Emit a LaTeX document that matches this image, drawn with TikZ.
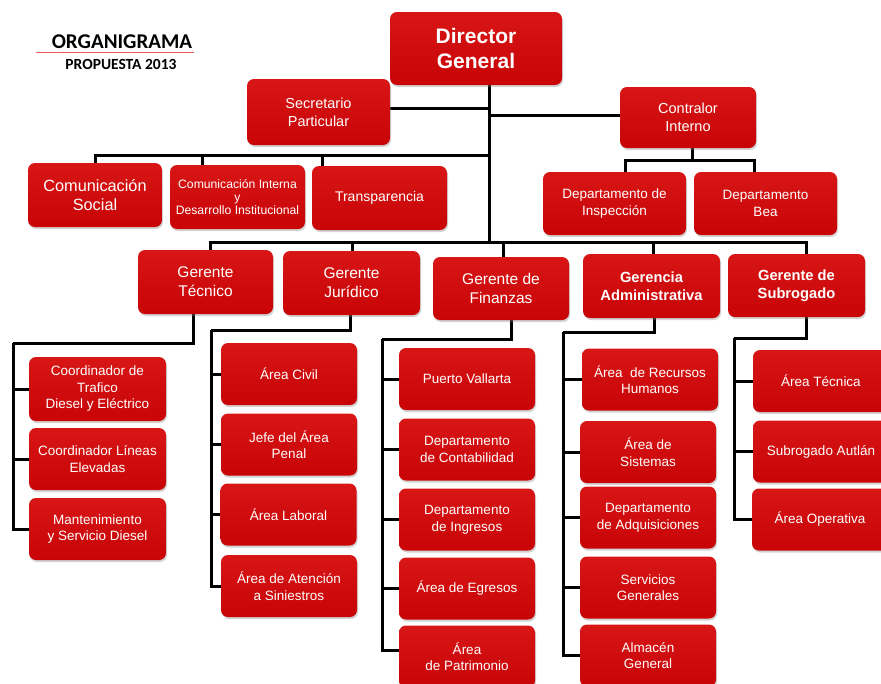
\documentclass[tikz,border=0pt]{standalone}
\usepackage{fontspec}
\setmainfont{Liberation Sans}
\newfontfamily\titlefont{Carlito}
\usepackage{tikz}
\usetikzlibrary{shadows}
\pgfdeclarelayer{background}
\pgfdeclarelayer{foreground}
\pgfsetlayers{background,main,foreground}
\definecolor{boxred}{RGB}{200,4,6}
\definecolor{boxlight}{RGB}{216,22,22}
\definecolor{titleline}{RGB}{236,90,90}

\begin{document}
\begin{tikzpicture}[x=1pt,y=-1pt,
					box/.style={rectangle, rounded corners=7pt, top color=boxlight, bottom color=boxred, text=white, align=center,
						minimum width=136pt, minimum height=62pt, inner sep=2pt, font=\fontsize{13.5}{16.5}\selectfont,
						drop shadow={opacity=0.35, shadow xshift=1pt, shadow yshift=-2pt}},
					bigbox/.style={box, font=\fontsize{15.5}{19}\selectfont},
					link/.style={line width=3pt, black},
					]
					\useasboundingbox (0,0) rectangle (881,683);
					\clip (0,0) rectangle (881,683);
					%Title
					\node[font=\titlefont\bfseries\fontsize{21}{24}\selectfont]      (ttl) 	at 	(122,42)           {ORGANIGRAMA};
					\node[font=\titlefont\bfseries\fontsize{15.5}{18}\selectfont]    (yr) 	at 	(121,64)           {PROPUESTA 2013};
					\draw[titleline, line width=1.3pt] ([xshift=-12pt]ttl.south west) -- ([xshift=-2pt]ttl.south east);
					%Nodes
					\node[box, minimum width=172pt, minimum height=73pt, font=\bfseries\fontsize{21}{25}\selectfont]
						(dir) 	at 	(476,48.5)         {Director\\General};
					\node[box, minimum width=143pt, minimum height=66pt, font=\fontsize{14.5}{18}\selectfont]
						(sec) 	at 	(318.5,112)        {Secretario\\Particular};
					\node[box, minimum height=61pt, font=\fontsize{14.5}{18}\selectfont]
						(con) 	at 	(688,117.5)        {Contralor\\Interno};
					\node[box, minimum width=134pt, minimum height=64pt, font=\fontsize{16.3}{19.5}\selectfont]
						(csoc) 	at 	(95,195)           {Comunicación\\Social};
					\node[box, minimum width=135pt, minimum height=64pt, font=\fontsize{12.2}{13}\selectfont]
						(cint) 	at 	(237.5,197)        {Comunicación Interna\\y\\Desarrollo Institucional};
					\node[box, minimum width=135pt, minimum height=64pt, font=\fontsize{14}{17}\selectfont]
						(trans) at 	(379.5,198)        {Transparencia};
					\node[box, minimum width=143pt, minimum height=63pt]
						(insp) 	at 	(614.5,203.5)      {Departamento de\\Inspección};
					\node[box, minimum width=143pt, minimum height=63pt]
						(bea) 	at 	(765.5,203.5)      {Departamento\\Bea};

					\node[bigbox, minimum width=135pt, minimum height=64pt]      (tec) 	at 	(205.5,282)   {Gerente\\Técnico};
					\node[bigbox, minimum width=137pt, minimum height=64pt]      (jur) 	at 	(351.5,283)   {Gerente\\Jurídico};
					\node[bigbox, minimum height=63pt]                           (fin) 	at 	(501,288.5)   {Gerente de\\Finanzas};
					\node[bigbox, minimum width=137pt, minimum height=64pt, font=\bfseries\fontsize{14.7}{18}\selectfont]
						(adm) 	at 	(651.5,286)        {Gerencia\\Administrativa};
					\node[bigbox, minimum width=137pt, minimum height=63pt, font=\bfseries\fontsize{14.7}{18}\selectfont]
						(sub) 	at 	(796.5,285.5)      {Gerente de\\Subrogado};

					\node[box, minimum width=137pt, minimum height=64pt]      (ctra) 	at 	(97.5,389)    {Coordinador de\\Trafico\\Diesel y Eléctrico};
					\node[box, minimum width=137pt]      (clin) 	at 	(97.5,459)    {Coordinador Líneas\\Elevadas};
					\node[box, minimum width=137pt]      (mant) 	at 	(97.5,529)    {Mantenimiento\\y Servicio Diesel};

					\node[box]      (civ) 	at 	(289,374)       {Área Civil};
					\node[box]      (pen) 	at 	(289,444.5)     {Jefe del Área\\Penal};
					\node[box]      (lab) 	at 	(288.5,514.5)   {Área Laboral};
					\node[box]      (sin) 	at 	(289,586)       {Área de Atención\\a Siniestros};

					\node[box]      (pv) 	at 	(467,379)       {Puerto Vallarta};
					\node[box]      (cont) 	at 	(467,449.5)     {Departamento\\de Contabilidad};
					\node[box]      (ing) 	at 	(467,519.5)     {Departamento\\de Ingresos};
					\node[box]      (egr) 	at 	(467,588.5)     {Área de Egresos};
					\node[box]      (pat) 	at 	(467,656.5)     {Área\\de Patrimonio};

					\node[box]      (rh) 	at 	(650,379.5)     {Área \ de Recursos\\Humanos};
					\node[box]      (sis) 	at 	(648,452)       {Área de\\Sistemas};
					\node[box]      (adq) 	at 	(648,517.5)     {Departamento\\de Adquisiciones};
					\node[box]      (sg) 	at 	(648,587.5)     {Servicios\\Generales};
					\node[box]      (alm) 	at 	(648,655.5)     {Almacén\\General};

					\node[box]      (atec) 	at 	(821,381)       {Área Técnica};
					\node[box]      (aut) 	at 	(821,451.5)     {Subrogado Autlán};
					\node[box]      (aop) 	at 	(820,519.5)     {Área Operativa};

					\begin{pgfonlayer}{background}
					%Lines
					\coordinate (mbus) at (489,242);
					\coordinate (sbus) at (489,155);
					\coordinate (cbus) at (692,160);
					\draw[link] ([xshift=13pt]dir.south) -- (mbus);
					\draw[link] ([yshift=4pt]sec.east) -- ([yshift=4pt]sec.east -| mbus);
					\draw[link] ([yshift=2pt]con.west) -- ([yshift=2pt]con.west -| mbus);
					\draw[link] (sbus) -| (csoc.north);
					\draw[link] (sbus) -| ([xshift=-35pt]cint.north);
					\draw[link] (sbus) -| ([xshift=-57pt]trans.north);
					\draw[link] ([xshift=4pt]con.south) -- (cbus);
					\draw[link] (cbus) -| ([xshift=11pt]insp.north);
					\draw[link] (cbus) -| ([xshift=-11pt]bea.north);
					\foreach \n/\s in {tec/5, jur/1, fin/2, adm/2, sub/10}
						\draw[link] (mbus) -| ([xshift=\s pt]\n.north);

					\coordinate (tecbus) at (13,343);
					\draw[link] ([xshift=-12pt]tec.south) |- (tecbus);
					\foreach \n in {ctra,clin,mant}
						\draw[link] (tecbus) |- (\n.west);

					\coordinate (jurbus) at (211,330);
					\draw[link] ([xshift=-1pt]jur.south) |- (jurbus);
					\foreach \n in {civ,pen,lab,sin}
						\draw[link] (jurbus) |- (\n.west);

					\coordinate (finbus) at (382,339);
					\draw[link] ([xshift=10pt]fin.south) |- (finbus);
					\foreach \n in {pv,cont,ing,egr}
						\draw[link] (finbus) |- (\n.west);
					\draw[link] (finbus) |- ([yshift=6pt]pat.west);

					\coordinate (admbus) at (563,332);
					\draw[link] ([xshift=3pt]adm.south) |- (admbus);
					\foreach \n in {rh,sis,adq,sg,alm}
						\draw[link] (admbus) |- (\n.west);

					\coordinate (subbus) at (734,338);
					\draw[link] ([xshift=10pt]sub.south) |- (subbus);
					\foreach \n in {atec,aut,aop}
						\draw[link] (subbus) |- (\n.west);
					\end{pgfonlayer}
				\end{tikzpicture}
\end{document}
